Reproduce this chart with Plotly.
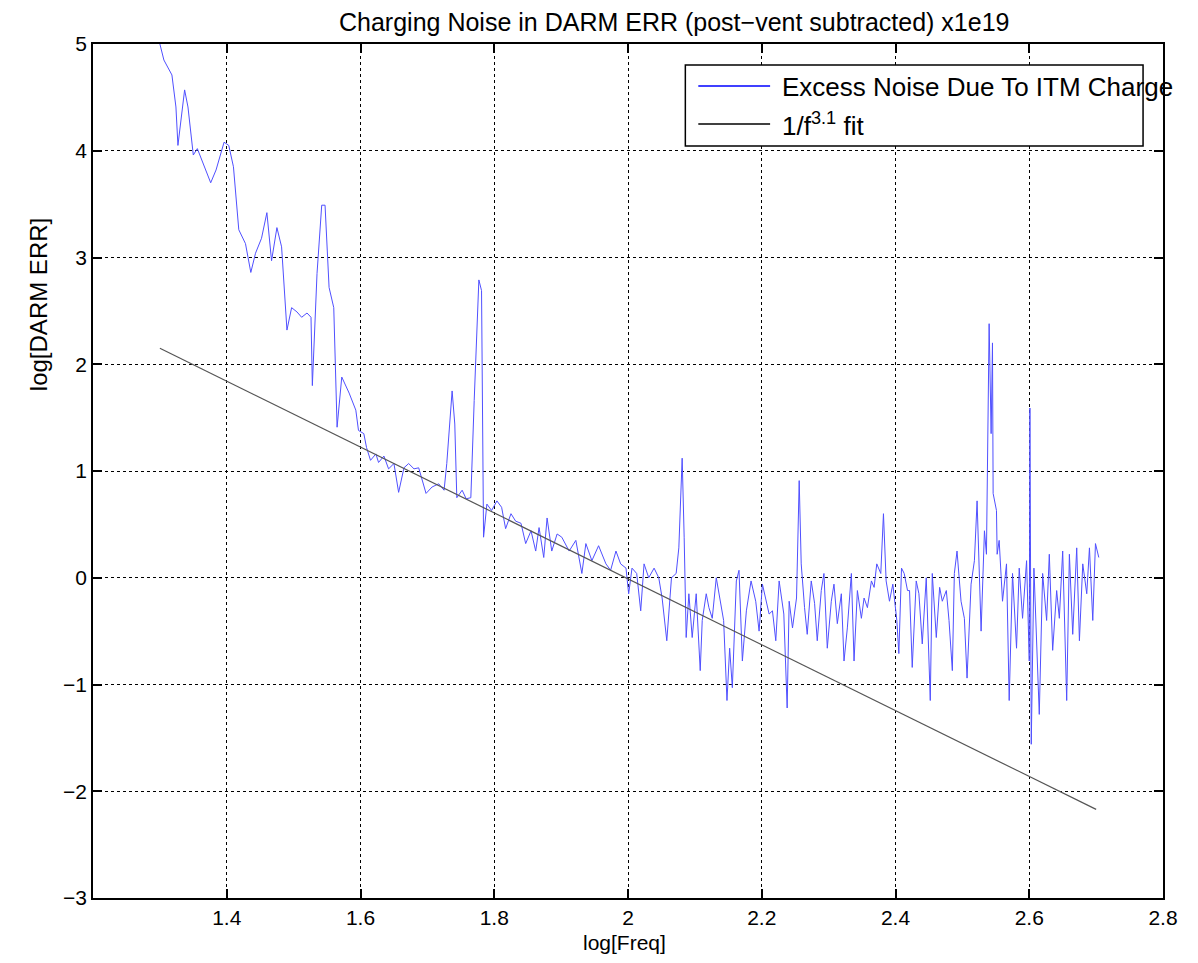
import plotly.graph_objects as go

# ---- data ----
log_freq = [
    1.298, 1.306, 1.318, 1.324, 1.327, 1.331, 1.337, 1.342, 1.346, 1.350, 1.356, 1.366, 1.376, 1.384,
    1.396, 1.403, 1.410, 1.418, 1.428, 1.436, 1.443, 1.452, 1.460, 1.467, 1.475, 1.482, 1.490, 1.497,
    1.505, 1.512, 1.520, 1.526, 1.528, 1.535, 1.542, 1.547, 1.553, 1.560, 1.565, 1.572, 1.583, 1.593,
    1.597,
    1.605, 1.609, 1.615, 1.623, 1.627, 1.635, 1.642, 1.650, 1.657, 1.665, 1.672, 1.680, 1.687, 1.698,
    1.707, 1.717, 1.725, 1.729, 1.737, 1.741, 1.744, 1.752, 1.758, 1.765, 1.770, 1.774, 1.777, 1.781,
    1.783, 1.784, 1.789, 1.796, 1.804, 1.811, 1.817, 1.825, 1.832, 1.840, 1.847, 1.855, 1.862, 1.867,
    1.874, 1.879, 1.886, 1.894,
    1.901, 1.912, 1.922, 1.931, 1.937, 1.946, 1.956, 1.967, 1.974, 1.982, 1.989, 1.997, 2.001, 2.006,
    2.013, 2.019, 2.024, 2.031, 2.039, 2.046, 2.051, 2.058, 2.065, 2.072, 2.076, 2.081, 2.084, 2.087,
    2.091, 2.096, 2.102, 2.108, 2.111, 2.117, 2.121, 2.126, 2.132, 2.139, 2.143, 2.148, 2.152, 2.156,
    2.162,
    2.166, 2.171, 2.177, 2.184, 2.191, 2.196, 2.201, 2.206, 2.211, 2.216, 2.221, 2.226, 2.233, 2.238,
    2.241, 2.246, 2.252, 2.256, 2.259, 2.264, 2.268, 2.274, 2.279, 2.283, 2.289, 2.293, 2.298, 2.304,
    2.308, 2.313, 2.319, 2.323, 2.328, 2.334, 2.338, 2.343, 2.349, 2.353, 2.358, 2.364, 2.368, 2.372,
    2.378, 2.382, 2.386, 2.391, 2.396, 2.402, 2.405, 2.409, 2.413, 2.418, 2.421,
    2.425, 2.431, 2.435, 2.440, 2.446, 2.452, 2.455, 2.461, 2.466, 2.470, 2.476, 2.480, 2.485, 2.488,
    2.492, 2.498, 2.503, 2.507, 2.513, 2.518, 2.522, 2.528, 2.533, 2.536, 2.540, 2.543, 2.545, 2.546,
    2.551, 2.552, 2.555, 2.560, 2.566, 2.570, 2.575, 2.581, 2.585, 2.590, 2.596, 2.600, 2.601, 2.603,
    2.607, 2.615, 2.620, 2.626, 2.630, 2.635, 2.641, 2.645, 2.650, 2.656, 2.660, 2.665, 2.671, 2.675,
    2.680, 2.686, 2.690, 2.695, 2.699, 2.704,
]
excess_noise = [
    5.05, 4.85, 4.71, 4.41, 4.05, 4.26, 4.57, 4.41, 4.19, 3.96, 4.02, 3.86, 3.70, 3.82,
    4.08, 4.05, 3.85, 3.26, 3.13, 2.86, 3.04, 3.18, 3.42, 2.97, 3.28, 3.10, 2.32, 2.53,
    2.49, 2.44, 2.48, 2.44, 1.80, 2.85, 3.49, 3.49, 2.72, 2.53, 1.41, 1.88, 1.73, 1.57,
    1.38,
    1.35, 1.22, 1.10, 1.16, 1.08, 1.14, 1.02, 1.07, 0.80, 1.03, 1.07, 1.02, 1.03, 0.79,
    0.85, 0.88, 0.82, 1.07, 1.75, 1.44, 0.75, 0.82, 0.74, 0.75, 1.66, 2.29, 2.79, 2.69,
    1.19, 0.38, 0.69, 0.63, 0.72, 0.66, 0.46, 0.60, 0.53, 0.51, 0.32, 0.44, 0.25, 0.47,
    0.19, 0.56, 0.25, 0.41,
    0.38, 0.25, 0.35, 0.04, 0.32, 0.16, 0.30, 0.13, 0.07, 0.25, 0.13, 0.09, -0.15, 0.09,
    0.04, -0.31, 0.13, 0.00, 0.09, 0.00, -0.19, -0.59, 0.00, 0.04, 0.28, 1.12, 0.38, -0.56,
    -0.15, -0.56, -0.15, -0.87, -0.40, -0.15, -0.28, -0.38, 0.00, -0.28, -0.40, -1.15, -0.66, -1.03,
    -0.03,
    0.07, -0.78, -0.31, -0.03, -0.22, -0.50, -0.06, -0.19, -0.34, -0.31, -0.59, -0.03, -0.34, -1.22,
    -0.22, -0.47, -0.19, 0.91, 0.13, -0.28, -0.53, -0.03, -0.24, -0.59, -0.12, 0.04, -0.66, -0.22,
    -0.06, -0.43, -0.15, -0.78, -0.47, 0.04, -0.78, -0.12, -0.38, -0.19, -0.28, -0.03, -0.09, 0.13,
    0.04, 0.60, -0.03, -0.22, -0.06, -0.40, -0.71, 0.09, 0.04, -0.12, -0.12,
    -0.84, -0.03, -0.15, -0.62, 0.00, -1.15, 0.04, -0.56, -0.09, -0.22, -0.12, -0.40, -0.87, 0.04,
    0.25, -0.22, -0.38, -0.94, -0.06, 0.16, 0.72, -0.50, 0.44, 0.22, 2.38, 1.35, 2.20, 0.79,
    0.63, 0.22, 0.35, -0.22, 0.13, -1.15, 0.04, -0.66, 0.09, -0.38, 0.16, -0.78, 1.59, -1.56,
    0.09, -1.28, 0.04, -0.40, 0.22, -0.68, -0.12, -0.38, 0.25, -1.15, 0.22, -0.53, 0.28, -0.59,
    0.13, -0.15, 0.28, -0.40, 0.32, 0.19,
]
fit_x = [1.3, 2.7]
fit_y = [2.15, -2.17]

x_ticks = [1.4, 1.6, 1.8, 2.0, 2.2, 2.4, 2.6, 2.8]
x_tick_text = ["1.4", "1.6", "1.8", "2", "2.2", "2.4", "2.6", "2.8"]
y_ticks = [-3, -2, -1, 0, 1, 2, 3, 4, 5]
y_tick_text = ["\u22123", "\u22122", "\u22121", "0", "1", "2", "3", "4", "5"]

title_text = "Charging Noise in DARM ERR (post\u2212vent subtracted) x1e19"
legend_names = ["Excess Noise Due To ITM Charge", "1/f<sup>3.1</sup> fit"]

FONT = "Liberation Sans, Arial, sans-serif"
PAGE_OFF = 8                      # default body margin of the html page
W, H = 1198 - 2 * PAGE_OFF, 963 - 2 * PAGE_OFF
# plot area in page pixels: x 93..1166, y 44..898
L = 93 - PAGE_OFF
T = 44 - PAGE_OFF
R = W - (1166 - PAGE_OFF)
B = H - (898 - PAGE_OFF)

fig = go.Figure()
fig.add_trace(go.Scatter(x=log_freq, y=excess_noise, mode="lines",
                         line=dict(color="rgb(80,80,255)", width=1),
                         name=legend_names[0], showlegend=False))
fig.add_trace(go.Scatter(x=fit_x, y=fit_y, mode="lines",
                         line=dict(color="#555555", width=1.2),
                         name="1/f^3.1 fit", showlegend=False))

axis_common = dict(showline=True, linecolor="black", linewidth=1.5, mirror="ticks",
                   ticks="inside", ticklen=9, tickcolor="black", tickwidth=1.5,
                   showgrid=True, gridcolor="black", griddash="dot", gridwidth=1.3,
                   zeroline=False, tickfont=dict(family=FONT, size=21, color="black"))

fig.update_layout(
    width=W, height=H,
    margin=dict(l=L, r=R, t=T, b=B),
    paper_bgcolor="white", plot_bgcolor="white",
    xaxis=dict(range=[1.2, 2.8], tickvals=x_ticks, ticktext=x_tick_text, **axis_common),
    yaxis=dict(range=[-3, 5], tickvals=y_ticks, ticktext=y_tick_text, **axis_common),
    showlegend=False,
)

pw = W - L - R
ph = H - T - B


def px(page_x):
    return (page_x - PAGE_OFF - L) / pw


def py(page_y):
    return 1 - (page_y - PAGE_OFF - T) / ph


def label(text, x, y, size=26, xanchor="center", angle=0):
    return dict(text=text, x=px(x), y=py(y), xref="paper", yref="paper",
                xanchor=xanchor, yanchor="middle", showarrow=False, textangle=angle,
                font=dict(family=FONT, size=size, color="black"))


annotations = [
    label(title_text, 676, 22, size=25),
    label("log[Freq]", 626, 942, size=21),
    label("log[DARM ERR]", 38, 305, size=24, angle=-90),
    label(legend_names[0], 782, 87, size=26, xanchor="left"),
    label(legend_names[1], 782, 124, size=26, xanchor="left"),
]
fig.update_layout(annotations=annotations)

shapes = [
    dict(type="rect", xref="paper", yref="paper", x0=px(687), x1=px(1146), y0=py(146), y1=py(65),
         line=dict(color="black", width=1.5), fillcolor="white", layer="above"),
    dict(type="line", xref="paper", yref="paper", x0=px(700), x1=px(772), y0=py(86), y1=py(86),
         line=dict(color="rgb(0,0,255)", width=1.5), layer="above"),
    dict(type="line", xref="paper", yref="paper", x0=px(700), x1=px(772), y0=py(124), y1=py(124),
         line=dict(color="black", width=1.5), layer="above"),
]
fig.update_layout(shapes=shapes)

fig.write_html("out.html")
